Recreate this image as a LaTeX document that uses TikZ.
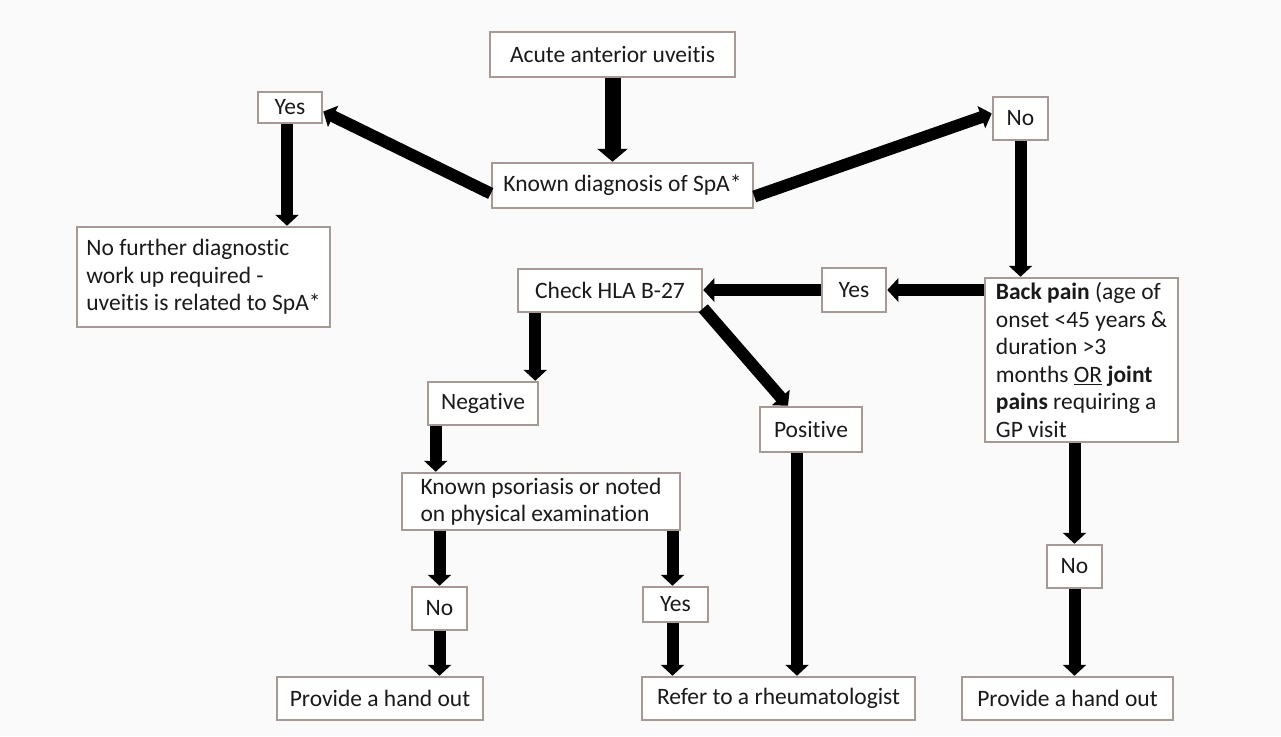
\documentclass[tikz,border=0pt]{standalone}
\usepackage{fontspec}
\setmainfont{Carlito}[Ligatures=NoCommon]
\usepackage{tikz}
\usetikzlibrary{arrows.meta,calc}
\definecolor{boxline}{HTML}{A59A95}
\definecolor{paper}{HTML}{FAFAFA}
\definecolor{ink}{HTML}{1A1A1A}

\begin{document}
\begin{tikzpicture}[x=1pt,y=-1pt,
    box/.style={draw=boxline,fill=white,line width=2.5pt,inner sep=0pt,text=ink,
                font=\fontsize{23.5}{27.5}\selectfont,align=left},
    arr/.style={line width=12pt,-{Triangle[width=23pt,length=11pt]}}]
  \fill[paper] (0,0) rectangle (1281,736);
  \useasboundingbox (0,0) rectangle (1281,736);

  % top of the chart
  \node[box,minimum width=245pt,minimum height=45pt] (acute) at (612.5,54.5) {Acute anterior uveitis};
  \node[box,minimum width=261pt,minimum height=45pt] (known) at (622.5,185.5) {Known diagnosis of SpA*};
  \node[box,minimum width=64pt,minimum height=31pt] (yesL) at (290,107.5) {Yes};
  \node[box,minimum width=55pt,minimum height=43pt] (noR) at (1020.5,118.5) {No};
  \node[box,minimum width=253pt,minimum height=100pt] (nofurther) at (203.5,277)
    {No further diagnostic\\work up required -\\uveitis is related to SpA*};

  % right branch
  \node[box,minimum width=193pt,minimum height=164pt] (back) at (1081.5,360)
    {\textbf{Back pain} (age of\\onset <45 years \&\\duration >3\\months \underline{OR} \textbf{joint}\\\textbf{pains} requiring a\\GP visit};
  \node[box,minimum width=64pt,minimum height=44pt] (yesM) at (854,290) {Yes};
  \node[box,minimum width=55pt,minimum height=43pt] (noB) at (1074.5,566.5) {No};
  \node[box,minimum width=211pt,minimum height=43pt] (provR) at (1067.5,698.5) {Provide a hand out};

  % HLA B-27 test
  \node[box,minimum width=184pt,minimum height=43pt] (check) at (610,290.5) {Check HLA B-27};
  \node[box,minimum width=110pt,minimum height=43pt] (negative) at (483,403.5) {Negative};
  \node[box,minimum width=102pt,minimum height=45pt] (positive) at (811,429.5) {Positive};
  \node[box,minimum width=278pt,minimum height=57pt] (psor) at (541,501.5)
    {Known psoriasis or noted\\on physical examination};
  \node[box,minimum width=55pt,minimum height=43pt] (noP) at (439.5,608.5) {No};
  \node[box,minimum width=65pt,minimum height=35pt] (yesP) at (675.5,604.5) {Yes};
  \node[box,minimum width=206pt,minimum height=43pt] (provL) at (380,698.5) {Provide a hand out};
  \node[box,minimum width=273pt,minimum height=43pt] (refer) at (778.5,698.5) {Refer to a rheumatologist};

  % arrows
  \draw[arr,line width=16pt,-{Triangle[width=30pt,length=13pt]}] (acute.south) -- (acute.south |- known.north);
  \draw[arr] ($(known.west)+(0,8)$) -- ($(yesL.east)+(0,4)$);
  \draw[arr] ($(known.east)+(0,11)$) -- ($(noR.west)+(0,-5)$);
  \draw[arr] ($(yesL.south)+(-3,0)$) -- ($(yesL.south |- nofurther.north)+(-3,0)$);
  \draw[arr] (noR.south) -- (noR.south |- back.north);
  \draw[arr] (back.west |- yesM.east) -- (yesM.east);
  \draw[arr] (yesM.west) -- (yesM.west -| check.east);
  \draw[arr] ($(check.south -| negative.north east)+(-4,0)$) -- ($(negative.north east)+(-4,0)$);
  \draw[arr] ($(check.south east)+(0,-5)$) -- ($(positive.north)+(-23,0)$);
  \draw[arr] ($(positive.south)+(-14,0)$) -- ($(positive.south |- refer.north)+(-14,0)$);
  \draw[arr] ($(negative.south west)+(9,0)$) -- ($(negative.south west |- psor.north)+(9,0)$);
  \draw[arr] (noP.north |- psor.south) -- (noP.north);
  \draw[arr] ($(yesP.north |- psor.south)+(-3,0)$) -- ($(yesP.north)+(-3,0)$);
  \draw[arr] (noP.south) -- (noP.south |- provL.north);
  \draw[arr] ($(yesP.south)+(-3,0)$) -- ($(yesP.south |- refer.north)+(-3,0)$);
  \draw[arr] (noB.north |- back.south) -- (noB.north);
  \draw[arr] (noB.south) -- (noB.south |- provR.north);
\end{tikzpicture}
\end{document}
